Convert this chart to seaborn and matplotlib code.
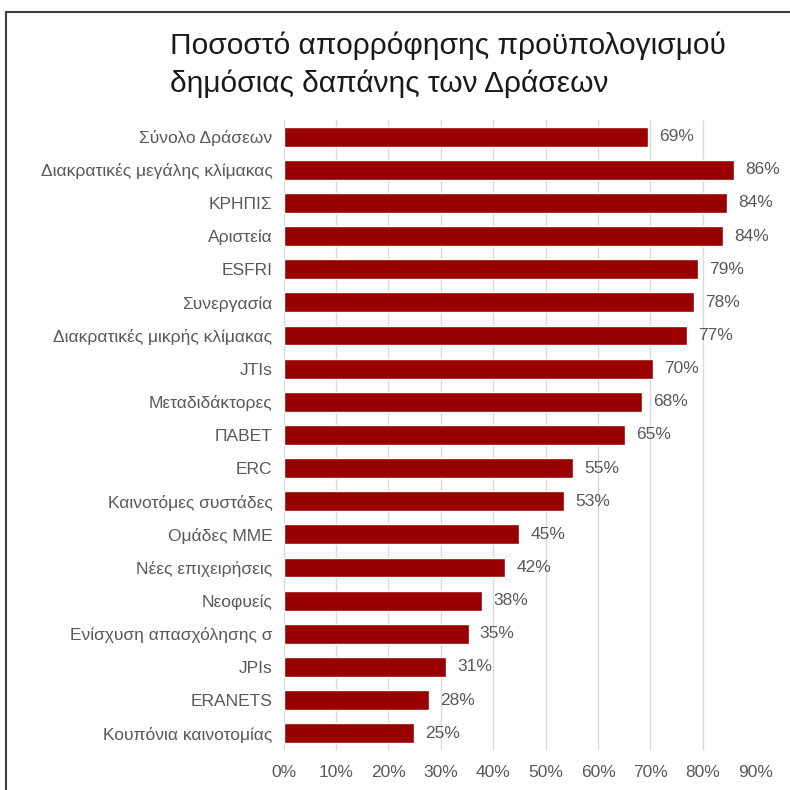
import matplotlib
matplotlib.use("Agg")
import matplotlib.pyplot as plt
import seaborn as sns
from matplotlib.patches import Rectangle

# δεδομένα από το διάγραμμα
categories = [
    "Σύνολο Δράσεων", "Διακρατικές μεγάλης κλίμακας", "ΚΡΗΠΙΣ", "Αριστεία",
    "ESFRI", "Συνεργασία", "Διακρατικές μικρής κλίμακας", "JTIs",
    "Μεταδιδάκτορες", "ΠΑΒΕΤ", "ERC", "Καινοτόμες συστάδες", "Ομάδες ΜΜΕ",
    "Νέες επιχειρήσεις", "Νεοφυείς", "Ενίσχυση απασχόλησης σ", "JPIs",
    "ERANETS", "Κουπόνια καινοτομίας",
]
absorption = [69.6, 86.0, 84.6, 83.9, 79.1, 78.4, 77.0, 70.5, 68.3, 65.2,
              55.3, 53.5, 45.0, 42.3, 37.9, 35.3, 31.0, 27.7, 24.9]
pct_labels = ["69%", "86%", "84%", "84%", "79%", "78%", "77%", "70%", "68%",
              "65%", "55%", "53%", "45%", "42%", "38%", "35%", "31%", "28%", "25%"]
x_ticks = [0, 10, 20, 30, 40, 50, 60, 70, 80, 90]

title = "Ποσοστό απορρόφησης προϋπολογισμού\nδημόσιας δαπάνης των Δράσεων"

sns.set_style("white")
plt.rcParams["font.family"] = ["Liberation Sans", "DejaVu Sans"]

fig = plt.figure(figsize=(7.9, 7.9), dpi=100)
ax = fig.add_axes([0.359, 0.051, 0.597, 0.797])

sns.barplot(x=absorption, y=categories, orient="h", color="#990000",
            saturation=1, width=0.6, ax=ax)

ax.set_xlim(0, 90)
ax.set_xticks(x_ticks)
ax.set_xticklabels([f"{t}%" for t in x_ticks])
ax.xaxis.grid(True, color="#d9d9d9", linewidth=1)
ax.set_axisbelow(True)
sns.despine(ax=ax, left=True, bottom=True)
ax.tick_params(axis="both", length=0, labelsize=12.5, labelcolor="#595959")
ax.tick_params(axis="y", pad=8)
ax.tick_params(axis="x", pad=11)
ax.set_xlabel("")
ax.set_ylabel("")

ax.bar_label(ax.containers[0], labels=pct_labels, padding=8,
             fontsize=12.5, color="#595959", clip_on=False)

fig.text(0.215, 0.96, title, ha="left", va="top", fontsize=21.5,
         color="#1a1a1a", linespacing=1.4)

# πλαίσιο της αρχικής εικόνας
fig.add_artist(Rectangle((0.008, -0.05), 1.1, 1.035, transform=fig.transFigure,
                         fill=False, edgecolor="#404040", linewidth=1.5))

plt.savefig("out.png", dpi=100)
plt.close()
